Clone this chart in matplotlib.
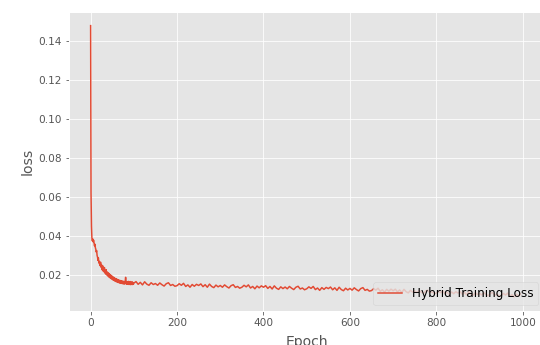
import matplotlib
matplotlib.use('Agg')
import matplotlib.pyplot as plt

plt.style.use('ggplot')

# epochs 0-99 one by one, then every 5th epoch up to 995
early_loss = [
    0.148, 0.062, 0.045, 0.039, 0.0375, 0.0385, 0.0370, 0.0378, 0.0362, 0.0350,
    0.0358, 0.0340, 0.0332, 0.0318, 0.0325, 0.0300, 0.0292, 0.0275, 0.0288, 0.0262,
    0.0270, 0.0255, 0.0248, 0.0266, 0.0240, 0.0254, 0.0234, 0.0226, 0.0247, 0.0220,
    0.0234, 0.0216, 0.0238, 0.0210, 0.0222, 0.0205, 0.0227, 0.0202, 0.0216, 0.0197,
    0.0212, 0.0193, 0.0208, 0.0188, 0.0204, 0.0185, 0.0200, 0.0182, 0.0197, 0.0179,
    0.0193, 0.0176, 0.0190, 0.0173, 0.0187, 0.0171, 0.0184, 0.0168, 0.0181, 0.0166,
    0.0179, 0.0164, 0.0177, 0.0162, 0.0175, 0.0161, 0.0173, 0.0159, 0.0172, 0.0158,
    0.0170, 0.0157, 0.0169, 0.0156, 0.0168, 0.0155, 0.0167, 0.0154, 0.0166, 0.0154,
    0.0165, 0.0188, 0.0160, 0.0153, 0.0166, 0.0152, 0.0164, 0.0154, 0.0167, 0.0151,
    0.0163, 0.0153, 0.0166, 0.0150, 0.0162, 0.0154, 0.0165, 0.0151, 0.0161, 0.0152,
]
late_loss = [
    0.0158, 0.0166, 0.0152, 0.0162, 0.0149, 0.0165, 0.0153, 0.0147, 0.0160, 0.0151,
    0.0156, 0.0147, 0.0159, 0.0150, 0.0143, 0.0155, 0.0160, 0.0146, 0.0151, 0.0142,
    0.0145, 0.0155, 0.0147, 0.0157, 0.0141, 0.0149, 0.0137, 0.0151, 0.0142, 0.0152,
    0.0146, 0.0154, 0.0140, 0.0150, 0.0137, 0.0153, 0.0141, 0.0135, 0.0148, 0.0139,
    0.0146, 0.0137, 0.0149, 0.0140, 0.0133, 0.0145, 0.0150, 0.0136, 0.0141, 0.0132,
    0.0137, 0.0147, 0.0139, 0.0149, 0.0133, 0.0141, 0.0129, 0.0143, 0.0134, 0.0144,
    0.0137, 0.0145, 0.0131, 0.0141, 0.0128, 0.0144, 0.0132, 0.0126, 0.0139, 0.0130,
    0.0138, 0.0129, 0.0141, 0.0132, 0.0125, 0.0137, 0.0142, 0.0128, 0.0133, 0.0124,
    0.0129, 0.0139, 0.0131, 0.0141, 0.0125, 0.0133, 0.0121, 0.0135, 0.0126, 0.0136,
    0.0130, 0.0138, 0.0124, 0.0134, 0.0121, 0.0137, 0.0125, 0.0119, 0.0132, 0.0123,
    0.0131, 0.0122, 0.0134, 0.0125, 0.0118, 0.0130, 0.0135, 0.0121, 0.0126, 0.0117,
    0.0120, 0.0130, 0.0122, 0.0132, 0.0116, 0.0124, 0.0112, 0.0126, 0.0117, 0.0127,
    0.0119, 0.0127, 0.0113, 0.0123, 0.0110, 0.0126, 0.0114, 0.0108, 0.0121, 0.0112,
    0.0118, 0.0109, 0.0121, 0.0112, 0.0105, 0.0117, 0.0122, 0.0108, 0.0113, 0.0104,
    0.0107, 0.0117, 0.0109, 0.0119, 0.0103, 0.0111, 0.0099, 0.0113, 0.0104, 0.0114,
    0.0107, 0.0115, 0.0101, 0.0111, 0.0098, 0.0114, 0.0102, 0.0096, 0.0109, 0.0100,
    0.0106, 0.0097, 0.0109, 0.0100, 0.0093, 0.0105, 0.0110, 0.0096, 0.0101, 0.0092,
    0.0095, 0.0105, 0.0097, 0.0107, 0.0091, 0.0099, 0.0087, 0.0101, 0.0092, 0.0102,
]

epochs = list(range(0, 100)) + list(range(100, 1000, 5))
loss = early_loss + late_loss

fig = plt.figure(figsize=(540 / 72, 345 / 72), dpi=72)
ax = fig.add_axes([69 / 540, 34 / 345, 475 / 540, 299 / 345])

ax.plot(epochs, loss, label='Hybrid Training Loss')
ax.set_xlim(-50, 1049)
ax.set_ylim(0.0015, 0.155)
ax.tick_params(labelsize=10.5)
ax.set_xlabel('Epoch', fontsize=14, labelpad=7)
ax.set_ylabel('loss', fontsize=14)
ax.legend(loc='lower right', fontsize=12)

fig.savefig('out.png', dpi=72)
